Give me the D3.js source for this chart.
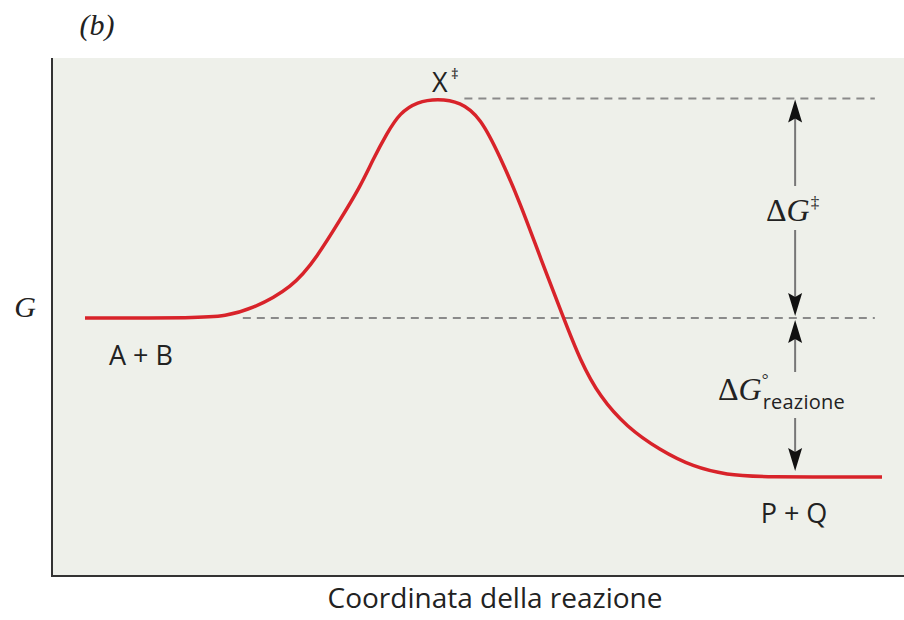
<!DOCTYPE html>
<html>
<head>
<meta charset="utf-8">
<script src="https://cdn.jsdelivr.net/npm/d3@7"></script>
<style>
  body { margin: 0; background: #fff; }
  .sans { font-family: "Open Sans", "Noto Sans", sans-serif; fill: #222; }
  .serif { font-family: "Liberation Serif", "DejaVu Serif", serif; fill: #222; }
  .it { font-style: italic; }
</style>
</head>
<body>
<svg id="chart" width="904" height="620"></svg>
<script>
// reaction coordinate (0..100) vs free energy (arbitrary units)
const coord = [0, 14.4, 17.6, 20.7, 26.1, 29.1, 32, 34.5, 36.1, 37.9, 39.5, 41.7, 44.2, 47.1, 49.6, 52.1, 54.6, 57.1, 60, 62.1, 64.6, 68, 72.1, 76.3, 80.6, 84.7, 100];
const energy = [50, 50, 50.4, 51.5, 55.8, 61.5, 68.5, 74.7, 79.8, 84.9, 88.7, 90.8, 91.4, 90.8, 87.9, 80.4, 71.7, 61.5, 50.2, 42.1, 35.1, 29.4, 25.1, 21.9, 20.4, 20, 20];

const levels = { peak: 91.4, reactants: 50, products: 20 };
const labels = { reactants: "A + B", products: "P + Q", ts: "X", xTitle: "Coordinata della reazione", yTitle: "G", panel: "(b)" };

const svg = d3.select("#chart");
const frame = { left: 52, right: 904, top: 58, bottom: 576 };

const x = d3.scaleLinear().domain([0, 100]).range([85, 882]);
const y = d3.scaleLinear().domain([0, 100]).range([583, 53]);

const data = coord.map((c, i) => ({ c, g: energy[i] }));

// plot background + axes
svg.append("rect")
  .attr("x", frame.left).attr("y", frame.top)
  .attr("width", frame.right - frame.left).attr("height", frame.bottom - frame.top)
  .attr("fill", "#eef0ea");

svg.append("path")
  .attr("d", `M${frame.left},${frame.top}V${frame.bottom}H${frame.right}`)
  .attr("fill", "none").attr("stroke", "#333").attr("stroke-width", 2);

// dashed reference levels
const dashEnd = x(99.1);
svg.append("line")
  .attr("x1", x(47.6)).attr("x2", dashEnd)
  .attr("y1", y(levels.peak)).attr("y2", y(levels.peak))
  .attr("stroke", "#8a8a8a").attr("stroke-width", 2).attr("stroke-dasharray", "8,6");
svg.append("line")
  .attr("x1", x(19.8)).attr("x2", dashEnd)
  .attr("y1", y(levels.reactants)).attr("y2", y(levels.reactants))
  .attr("stroke", "#8a8a8a").attr("stroke-width", 2).attr("stroke-dasharray", "8,6");

// energy curve
const line = d3.line().x((d) => x(d.c)).y((d) => y(d.g)).curve(d3.curveBasis);
svg.append("path").datum(data)
  .attr("d", line).attr("fill", "none")
  .attr("stroke", "#d8232a").attr("stroke-width", 3.5);

// arrows (from = label side, to = tip)
const ax = x(89.1);
const arrow = (from, to) => {
  const dir = to < from ? -1 : 1;
  svg.append("line")
    .attr("x1", ax).attr("x2", ax).attr("y1", from).attr("y2", to - dir * 18)
    .attr("stroke", "#777").attr("stroke-width", 2);
  svg.append("path")
    .attr("d", `M${ax},${to}L${ax + 7},${to - dir * 23}L${ax},${to - dir * 19}L${ax - 7},${to - dir * 23}Z`)
    .attr("fill", "#111");
};
arrow(186, y(levels.peak) + 1);
arrow(230, y(levels.reactants) - 2);
arrow(372, y(levels.reactants) + 2);
arrow(418, y(levels.products) - 6);

// ΔG‡ label
const d1 = svg.append("text").attr("class", "serif").attr("x", 766).attr("y", 221).attr("font-size", 32).text("Δ");
const g1x = 766 + d1.node().getComputedTextLength();
const g1 = svg.append("text").attr("class", "serif it").attr("x", g1x).attr("y", 221).attr("font-size", 32).text("G");
svg.append("text").attr("class", "serif").attr("x", g1x + g1.node().getComputedTextLength() + 1)
  .attr("y", 208).attr("font-size", 17).text("‡");

// ΔG°reazione label
const d2 = svg.append("text").attr("class", "serif").attr("x", 718).attr("y", 400).attr("font-size", 32).text("Δ");
const g2x = 718 + d2.node().getComputedTextLength();
const g2 = svg.append("text").attr("class", "serif it").attr("x", g2x).attr("y", 400).attr("font-size", 32).text("G");
const g2end = g2x + g2.node().getComputedTextLength();
svg.append("text").attr("class", "serif").attr("x", g2end).attr("y", 385).attr("font-size", 17).text("°");
svg.append("text").attr("class", "sans").attr("x", g2end + 1).attr("y", 409)
  .attr("font-size", 20).attr("textLength", 82).text("reazione");

// species labels
svg.append("text").attr("class", "sans").attr("x", 141).attr("y", 365)
  .attr("font-size", 27).attr("text-anchor", "middle").text(labels.reactants);
svg.append("text").attr("class", "sans").attr("x", 794).attr("y", 523)
  .attr("font-size", 27).attr("text-anchor", "middle").text(labels.products);
svg.append("text").attr("class", "sans").attr("x", 432).attr("y", 92).attr("font-size", 27).text(labels.ts);
svg.append("text").attr("class", "sans").attr("x", 451).attr("y", 79).attr("font-size", 15).text("‡");

// axis titles
svg.append("text").attr("class", "sans").attr("x", 495).attr("y", 608)
  .attr("font-size", 28).attr("text-anchor", "middle").text(labels.xTitle);
svg.append("text").attr("class", "serif it").attr("x", 25).attr("y", 317)
  .attr("font-size", 30).attr("text-anchor", "middle").text(labels.yTitle);
svg.append("text").attr("class", "serif it").attr("x", 97).attr("y", 35)
  .attr("font-size", 30).attr("text-anchor", "middle").text(labels.panel);
</script>
</body>
</html>
